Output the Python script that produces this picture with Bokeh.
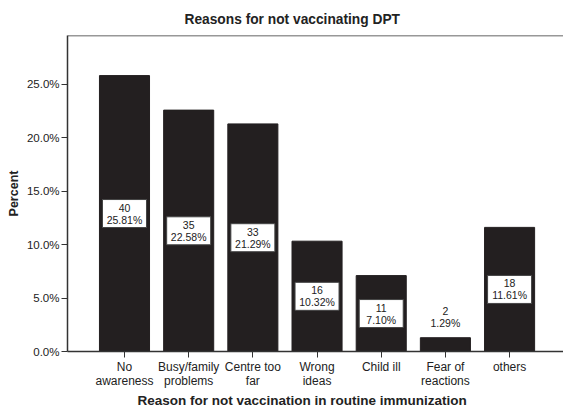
from bokeh.plotting import figure
from bokeh.models import (ColumnDataSource, FixedTicker, Title, Range1d,
                          PrintfTickFormatter, Span)
from bokeh.embed import file_html
from bokeh.resources import INLINE
from bokeh.core.properties import value

# Survey results: reasons children missed DPT vaccination
reasons = ["No\nawareness", "Busy/family\nproblems", "Centre too\nfar",
           "Wrong\nideas", "Child ill", "Fear of\nreactions", "others"]
counts = [40, 35, 33, 16, 11, 2, 18]
percents = [25.81, 22.58, 21.29, 10.32, 7.10, 1.29, 11.61]
y_ticks = [0, 5, 10, 15, 20, 25]

FONT = "Liberation Sans"
BAR_COLOR = "#231f20"
AXIS_COLOR = "#333333"

idx = list(range(len(reasons)))
labels = [f"{c}\n{p:.2f}%" for c, p in zip(counts, percents)]

# bars tall enough hold their boxed label at mid-height; others get it above
inside = [i for i in idx if percents[i] >= 3]
outside = [i for i in idx if percents[i] < 3]

bars = ColumnDataSource(dict(x=idx, top=percents))
inside_src = ColumnDataSource(dict(
    x=[idx[i] for i in inside],
    mid=[percents[i] / 2 for i in inside],
    text=[labels[i] for i in inside]))
outside_src = ColumnDataSource(dict(
    x=[idx[i] for i in outside],
    top=[percents[i] for i in outside],
    text=[labels[i] for i in outside]))

y_end = 29.56
p = figure(width=563, height=408, output_backend="svg", toolbar_location=None,
           x_range=Range1d(-0.888, 6.84), y_range=Range1d(0, y_end),
           min_border_left=67, min_border_right=0, min_border_top=0,
           min_border_bottom=0)
p.outline_line_color = None
p.grid.grid_line_color = None
p.background_fill_color = "white"
p.border_fill_color = "white"

p.vbar(x="x", top="top", width=0.78, bottom=0, source=bars,
       fill_color=BAR_COLOR, line_color=BAR_COLOR)

p.rect(x="x", y="mid", width=44, height=28, width_units="screen",
       height_units="screen", source=inside_src, fill_color="white",
       line_color="#444444", line_width=1)
p.text(x="x", y="mid", text="text", source=inside_src, text_align="center",
       text_baseline="middle", text_font=value(FONT),
       text_font_size="10.5px", text_color="#222222", text_line_height=1.0)
p.text(x="x", y="top", text="text", source=outside_src, text_align="center",
       text_baseline="middle", y_offset=-21, text_font=value(FONT),
       text_font_size="10.5px", text_color="#222222", text_line_height=1.0)

# top edge of the frame
p.add_layout(Span(location=y_end, dimension="width", line_color=AXIS_COLOR,
                  line_width=1.5))

xa = p.xaxis[0]
xa.ticker = FixedTicker(ticks=idx)
xa.major_label_overrides = {i: r for i, r in zip(idx, reasons)}
xa.major_label_text_font = FONT
xa.major_label_text_font_size = "12px"
xa.major_label_text_color = "#222222"
xa.major_label_text_line_height = 1.0
xa.major_label_standoff = 2
xa.major_tick_out = 6
xa.major_tick_in = 0
xa.minor_tick_line_color = None
xa.axis_line_color = AXIS_COLOR
xa.axis_line_width = 1.5
xa.major_tick_line_color = AXIS_COLOR

ya = p.yaxis[0]
ya.ticker = FixedTicker(ticks=y_ticks)
ya.formatter = PrintfTickFormatter(format="%.1f%%")
ya.major_label_text_font = FONT
ya.major_label_text_font_size = "11.5px"
ya.major_label_text_color = "#222222"
ya.major_label_standoff = 2
ya.major_tick_out = 6
ya.major_tick_in = 0
ya.minor_tick_line_color = None
ya.axis_line_color = AXIS_COLOR
ya.axis_line_width = 1.5
ya.major_tick_line_color = AXIS_COLOR

p.add_layout(Title(text="Reasons for not vaccinating DPT", align="left",
                   offset=117, text_font=FONT, text_font_size="13.75px",
                   text_font_style="bold", text_color="#222222",
                   standoff=18), "above")
p.add_layout(Title(text="Reason for not vaccination in routine immunization",
                   align="left", offset=70, text_font=FONT,
                   text_font_size="13.5px", text_font_style="bold",
                   text_color="#222222", standoff=1), "below")
p.add_layout(Title(text="Percent", align="center", text_font=FONT,
                   text_font_size="12.5px", text_font_style="bold",
                   text_color="#222222", standoff=6), "left")

open("out.html", "w").write(file_html(p, INLINE))
